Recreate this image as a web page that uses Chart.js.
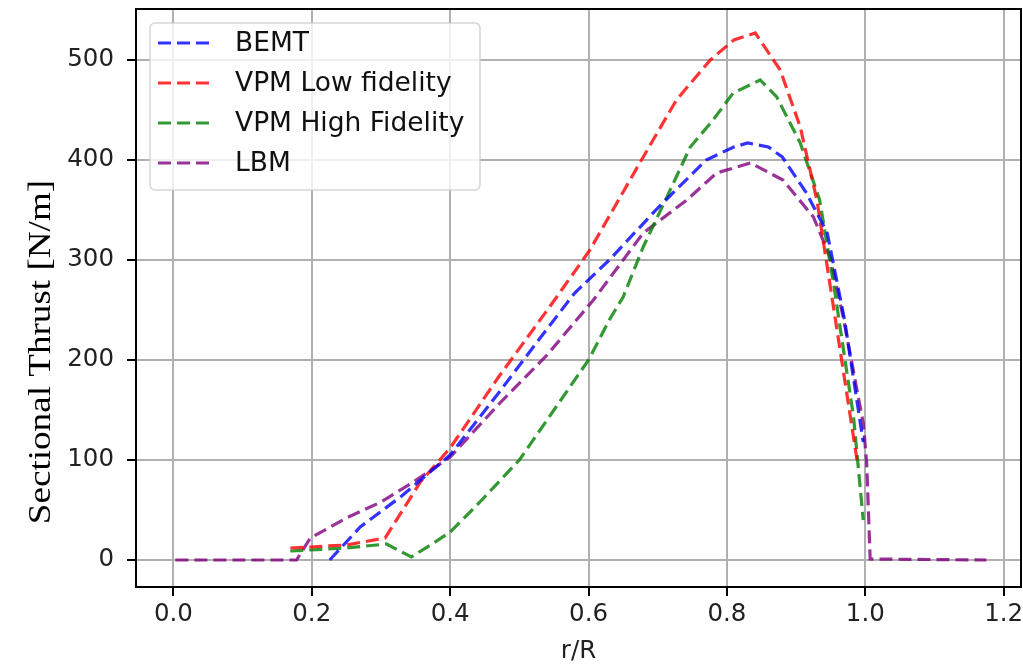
<!DOCTYPE html>
<html>
<head>
<meta charset="utf-8">
<script src="https://cdn.jsdelivr.net/npm/chart.js@4.4.1/dist/chart.umd.min.js"></script>
<style>
  html, body { margin: 0; padding: 0; background: #fff; }
  #wrap { width: 1023px; height: 666px; position: relative; }
</style>
</head>
<body>
<div id="wrap"><canvas id="myChart"></canvas></div>
<script>
// values
const xTicks = [0.0, 0.2, 0.4, 0.6, 0.8, 1.0, 1.2]
const yTicks = [0, 100, 200, 300, 400, 500]

const rBemt = [0.226, 0.27, 0.33, 0.4, 0.47, 0.53, 0.58, 0.63, 0.7, 0.77, 0.81, 0.83, 0.86, 0.88, 0.915, 0.945, 0.97, 0.997]
const thrustBemt = [0, 33, 64, 105, 167, 222, 267, 300, 352, 400, 413, 417, 413, 403, 367, 327, 240, 118]

const rVpmLow = [0.169, 0.25, 0.306, 0.357, 0.4, 0.47, 0.554, 0.602, 0.674, 0.727, 0.776, 0.81, 0.841, 0.877, 0.906, 0.93, 0.954, 0.988]
const thrustVpmLow = [12, 15, 22, 78, 112, 183, 263, 310, 397, 460, 500, 520, 527, 490, 433, 360, 253, 100]

const rVpmHigh = [0.169, 0.25, 0.308, 0.344, 0.376, 0.4, 0.443, 0.5, 0.55, 0.6, 0.63, 0.65, 0.679, 0.718, 0.747, 0.78, 0.809, 0.848, 0.872, 0.906, 0.934, 0.954, 0.983, 0.997]
const thrustVpmHigh = [9, 12, 16, 3, 17, 28, 58, 100, 150, 200, 240, 263, 313, 370, 413, 440, 467, 480, 463, 417, 360, 277, 143, 40]

const rLbm = [0.003, 0.178, 0.198, 0.25, 0.3, 0.347, 0.4, 0.472, 0.54, 0.607, 0.679, 0.742, 0.785, 0.834, 0.881, 0.925, 0.949, 0.968, 0.997, 1.002, 1.007, 1.175]
const thrustLbm = [0, 0, 22, 42, 58, 78, 103, 157, 205, 260, 327, 360, 387, 397, 380, 343, 303, 243, 137, 97, 1, 0]

const toPoints = (xs, ys) => xs.map((x, i) => ({ x: x, y: ys[i] }))

const tickFont = { family: "'DejaVu Sans'", size: 24.5 }

const series = (label, color, xs, ys) => ({
  label: label,
  data: toPoints(xs, ys),
  borderColor: color,
  backgroundColor: color,
  borderWidth: 3.2,
  borderDash: [13, 6],
  pointRadius: 0,
  tension: 0,
  fill: false
})

// frame, legend inside the axes and the serif y label
const decorations = {
  id: 'decorations',
  afterDatasetsDraw(chart) {
    const { ctx, chartArea } = chart
    ctx.save()
    ctx.strokeStyle = '#000'
    ctx.lineWidth = 2
    ctx.strokeRect(chartArea.left, chartArea.top, chartArea.right - chartArea.left, chartArea.bottom - chartArea.top)

    // legend box
    const bx = chartArea.left + 14
    const by = chartArea.top + 14
    const bw = 330
    const bh = 167
    ctx.beginPath()
    ctx.roundRect(bx, by, bw, bh, 5)
    ctx.fillStyle = 'rgba(255,255,255,0.8)'
    ctx.fill()
    ctx.strokeStyle = 'rgba(204,204,204,0.8)'
    ctx.lineWidth = 1.5
    ctx.stroke()

    ctx.font = "26.5px 'DejaVu Sans'"
    ctx.textBaseline = 'middle'
    ctx.textAlign = 'left'
    chart.data.datasets.forEach((ds, i) => {
      const yy = by + 20 + i * 40
      ctx.beginPath()
      ctx.setLineDash(ds.borderDash)
      ctx.lineWidth = ds.borderWidth
      ctx.strokeStyle = ds.borderColor
      ctx.moveTo(bx + 8, yy)
      ctx.lineTo(bx + 62, yy)
      ctx.stroke()
      ctx.setLineDash([])
      ctx.fillStyle = '#111'
      ctx.fillText(ds.label, bx + 85, yy + 1)
    })
    ctx.restore()
  },
  afterDraw(chart) {
    const { ctx } = chart
    ctx.save()
    ctx.translate(42, 352)
    ctx.rotate(-Math.PI / 2)
    ctx.scale(1.16, 1)
    ctx.font = "32px 'Liberation Serif'"
    ctx.fillStyle = '#000'
    ctx.textAlign = 'center'
    ctx.textBaseline = 'middle'
    ctx.fillText('Sectional Thrust [N/m]', 0, 0)
    ctx.restore()
  }
}

new Chart(document.getElementById('myChart').getContext('2d'), {
  type: 'line',
  data: {
    datasets: [
      series('BEMT', 'rgba(0,0,255,0.8)', rBemt, thrustBemt),
      series('VPM Low fidelity', 'rgba(255,0,0,0.8)', rVpmLow, thrustVpmLow),
      series('VPM High Fidelity', 'rgba(0,128,0,0.8)', rVpmHigh, thrustVpmHigh),
      series('LBM', 'rgba(128,0,128,0.8)', rLbm, thrustLbm)
    ]
  },
  options: {
    responsive: true,
    maintainAspectRatio: false,
    animation: false,
    layout: { padding: { top: 9, right: 2, left: 0, bottom: 0 } },
    plugins: {
      legend: { display: false },
      tooltip: { enabled: false }
    },
    scales: {
      x: {
        type: 'linear',
        min: -0.054,
        max: 1.225,
        afterBuildTicks: scale => { scale.ticks = xTicks.map(v => ({ value: v })) },
        afterFit: scale => {
          scale.height = 79
          scale.paddingLeft = 0
          scale.paddingRight = 0
        },
        border: { display: false },
        grid: { color: '#b0b0b0', lineWidth: 2, tickColor: '#000', tickWidth: 2, tickLength: 9 },
        ticks: {
          font: tickFont,
          color: '#222',
          padding: 4,
          maxRotation: 0,
          callback: v => v.toFixed(1)
        },
        title: {
          display: true,
          text: 'r/R',
          font: tickFont,
          color: '#222',
          padding: { top: 0, bottom: 0 }
        }
      },
      y: {
        type: 'linear',
        min: -27,
        max: 551,
        afterBuildTicks: scale => { scale.ticks = yTicks.map(v => ({ value: v })) },
        afterFit: scale => {
          scale.width = 136
          scale.paddingTop = 0
          scale.paddingBottom = 0
        },
        border: { display: false },
        grid: { color: '#b0b0b0', lineWidth: 2, tickColor: '#000', tickWidth: 2, tickLength: 9 },
        ticks: {
          font: tickFont,
          color: '#222',
          padding: 13,
          callback: v => String(v)
        }
      }
    }
  },
  plugins: [decorations]
})
</script>
</body>
</html>
